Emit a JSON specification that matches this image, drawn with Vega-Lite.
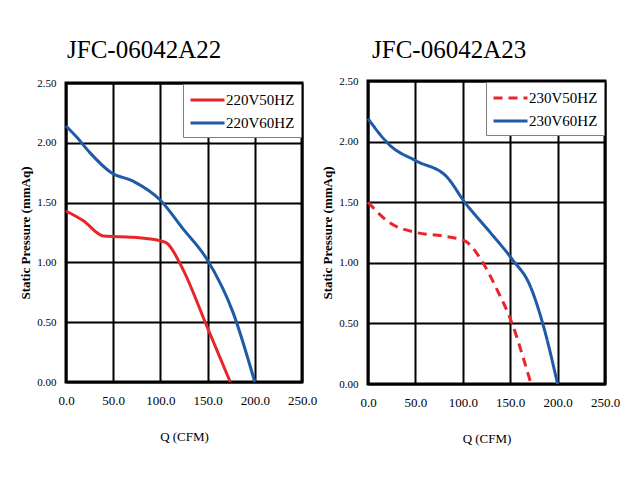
{
  "$schema": "https://vega.github.io/schema/vega-lite/v6.json",
  "background": "white",
  "padding": {"left": 18, "top": 36, "right": 0, "bottom": 0},
  "datasets": {
    "a22": [
      {"series": "220V60HZ", "Q": 0, "P": 2.14},
      {"series": "220V60HZ", "Q": 11, "P": 2.05},
      {"series": "220V60HZ", "Q": 25, "P": 1.92},
      {"series": "220V60HZ", "Q": 48, "P": 1.75},
      {"series": "220V60HZ", "Q": 71, "P": 1.68},
      {"series": "220V60HZ", "Q": 100, "P": 1.52},
      {"series": "220V60HZ", "Q": 124, "P": 1.28},
      {"series": "220V60HZ", "Q": 149, "P": 1.03},
      {"series": "220V60HZ", "Q": 177, "P": 0.58},
      {"series": "220V60HZ", "Q": 200, "P": 0},
      {"series": "220V50HZ", "Q": 0, "P": 1.43},
      {"series": "220V50HZ", "Q": 18, "P": 1.35},
      {"series": "220V50HZ", "Q": 40, "P": 1.22},
      {"series": "220V50HZ", "Q": 71, "P": 1.21},
      {"series": "220V50HZ", "Q": 100, "P": 1.18},
      {"series": "220V50HZ", "Q": 107, "P": 1.16},
      {"series": "220V50HZ", "Q": 124, "P": 0.94},
      {"series": "220V50HZ", "Q": 149, "P": 0.47},
      {"series": "220V50HZ", "Q": 174, "P": 0}
    ],
    "a23": [
      {"series": "230V60HZ", "Q": 0, "P": 2.19},
      {"series": "230V60HZ", "Q": 23, "P": 1.97},
      {"series": "230V60HZ", "Q": 51, "P": 1.84},
      {"series": "230V60HZ", "Q": 83, "P": 1.71},
      {"series": "230V60HZ", "Q": 102, "P": 1.5},
      {"series": "230V60HZ", "Q": 129, "P": 1.25},
      {"series": "230V60HZ", "Q": 152, "P": 1.03},
      {"series": "230V60HZ", "Q": 171, "P": 0.81},
      {"series": "230V60HZ", "Q": 185, "P": 0.48},
      {"series": "230V60HZ", "Q": 200, "P": 0},
      {"series": "230V50HZ", "Q": 0, "P": 1.5},
      {"series": "230V50HZ", "Q": 23, "P": 1.33},
      {"series": "230V50HZ", "Q": 51, "P": 1.25},
      {"series": "230V50HZ", "Q": 80, "P": 1.22},
      {"series": "230V50HZ", "Q": 102, "P": 1.18},
      {"series": "230V50HZ", "Q": 122, "P": 0.99},
      {"series": "230V50HZ", "Q": 136, "P": 0.78},
      {"series": "230V50HZ", "Q": 152, "P": 0.5},
      {"series": "230V50HZ", "Q": 164, "P": 0.21},
      {"series": "230V50HZ", "Q": 172, "P": 0}
    ]
  },
  "spacing": 66,
  "bounds": "flush",
  "center": true,
  "hconcat": [
    {
      "width": 236,
      "height": 299,
      "title": {"text": "JFC-06042A22", "anchor": "start", "frame": "group", "dx": 1, "offset": 14},
      "data": {"name": "a22"},
      "mark": {"type": "line", "strokeWidth": 3, "interpolate": "monotone"},
      "encoding": {
        "x": {"field": "Q", "type": "quantitative", "scale": {"domain": [0, 250], "nice": false},
              "axis": {"title": "Q (CFM)", "values": [0, 50, 100, 150, 200, 250], "format": ".1f"}},
        "y": {"field": "P", "type": "quantitative", "scale": {"domain": [0, 2.5], "nice": false},
              "axis": {"title": "Static Pressure (mmAq)", "values": [0, 0.5, 1, 1.5, 2, 2.5], "format": ".2f"}},
        "color": {"field": "series", "type": "nominal",
                  "scale": {"domain": ["220V50HZ", "220V60HZ"], "range": ["#e8262a", "#1f5aa8"]},
                  "legend": {"title": null}}
      }
    },
    {
      "width": 237,
      "height": 303,
      "title": {"text": "JFC-06042A23", "anchor": "start", "frame": "group", "dx": 4, "offset": 12},
      "data": {"name": "a23"},
      "mark": {"type": "line", "strokeWidth": 3, "interpolate": "monotone"},
      "encoding": {
        "x": {"field": "Q", "type": "quantitative", "scale": {"domain": [0, 250], "nice": false},
              "axis": {"title": "Q (CFM)", "values": [0, 50, 100, 150, 200, 250], "format": ".1f"}},
        "y": {"field": "P", "type": "quantitative", "scale": {"domain": [0, 2.5], "nice": false},
              "axis": {"title": "Static Pressure (mmAq)", "values": [0, 0.5, 1, 1.5, 2, 2.5], "format": ".2f"}},
        "color": {"field": "series", "type": "nominal",
                  "scale": {"domain": ["230V50HZ", "230V60HZ"], "range": ["#e8262a", "#1f5aa8"]},
                  "legend": {"title": null}},
        "strokeDash": {"field": "series", "type": "nominal",
                  "scale": {"domain": ["230V50HZ", "230V60HZ"], "range": [[9, 6], [1, 0]]},
                  "legend": {"title": null}}
      }
    }
  ],
  "resolve": {"scale": {"color": "independent", "strokeDash": "independent"}, "legend": {"color": "independent", "strokeDash": "independent"}},
  "config": {
    "font": "Liberation Serif",
    "view": {"stroke": "black", "strokeWidth": 3},
    "title": {"font": "Liberation Serif", "fontSize": 25, "fontWeight": "normal", "color": "black"},
    "axis": {
      "labelFont": "Liberation Serif", "titleFont": "Liberation Serif",
      "labelColor": "black", "titleColor": "black",
      "grid": true, "gridColor": "black", "gridWidth": 2, "gridOpacity": 1,
      "domain": false, "ticks": false, "labelFlush": false, "labelOverlap": false
    },
    "axisX": {"labelFontSize": 13, "labelPadding": 12, "titleFontSize": 13, "titleFontWeight": "normal", "titlePadding": 23},
    "axisY": {"labelFontSize": 11, "labelPadding": 10, "titleFontSize": 13, "titleFontWeight": "bold", "titlePadding": 4},
    "legend": {
      "orient": "top-right", "offset": 1, "fillColor": "white", "strokeColor": "#808080",
      "padding": 6, "labelFont": "Liberation Serif", "labelFontSize": 15, "labelColor": "black",
      "symbolType": "M-1,0H3", "symbolSize": 289, "symbolStrokeWidth": 3, "labelOffset": 17, "rowPadding": 5
    }
  }
}
